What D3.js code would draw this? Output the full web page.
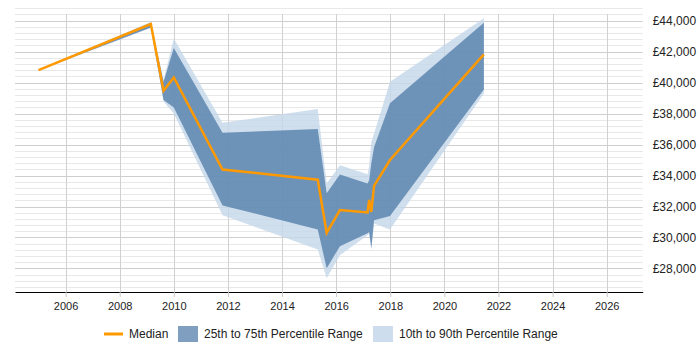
<!DOCTYPE html>
<html>
<head>
<meta charset="utf-8">
<script src="https://cdn.jsdelivr.net/npm/d3@7"></script>
<style>
  body { margin: 0; background: #fff; }
  svg { display: block; font-family: Arial, "Liberation Sans", sans-serif; }
</style>
</head>
<body>
<svg id="chart" width="700" height="350"></svg>
<script>
// decimal years of each observation
var years  = [2005.0, 2009.15, 2009.62, 2010.0, 2011.8, 2015.32, 2015.65, 2016.14, 2017.16, 2017.22, 2017.3, 2017.4, 2017.99, 2021.46]
var p10    = [40800, 43520, 38780, 38000, 31440, 29230, 27360, 28860, 30150, 30250, 29200, 30900, 30520, 39300]
var p25    = [40800, 43560, 38870, 38400, 32070, 30520, 28010, 29440, 30270, 30350, 29300, 31120, 31380, 39560]
var median = [40800, 43780, 39470, 40330, 34390, 33730, 30300, 31770, 31620, 32420, 31650, 33330, 35000, 41820]
var p75    = [40800, 43860, 40060, 42240, 36760, 37000, 32850, 34070, 33490, 33700, 34800, 35820, 38660, 43860]
var p90    = [40800, 43920, 40160, 42850, 37400, 38290, 33490, 34670, 34080, 34600, 36180, 36700, 40050, 44150]

var xTicks = [2006, 2008, 2010, 2012, 2014, 2016, 2018, 2020, 2022, 2024, 2026]
var yTicks = [28000, 30000, 32000, 34000, 36000, 38000, 40000, 42000, 44000]
var yMinor = d3.range(26800, 45000, 400)

var legendItems = ["Median", "25th to 75th Percentile Range", "10th to 90th Percentile Range"]

var data = years.map(function(yr, i){
    return {year: yr, p10: p10[i], p25: p25[i], median: median[i], p75: p75[i], p90: p90[i]}
})

var svg = d3.select("#chart")
var plotLeft = 15, plotRight = 642.7, plotTop = 5, plotBottom = 292

var x = d3.scaleLinear().domain([2004.13, 2027.33]).range([plotLeft, plotRight])
var y = d3.scaleLinear().domain([26480, 45010]).range([plotBottom, plotTop])

// horizontal gridlines, every 400, darker on labelled values
svg.append("g").selectAll("line")
   .data(yMinor)
   .join("line")
   .attr("x1", plotLeft).attr("x2", plotRight)
   .attr("y1", d => Math.round(y(d)) + 0.5).attr("y2", d => Math.round(y(d)) + 0.5)
   .style("stroke", d => d % 2000 == 0 ? "#cfcfcf" : "#e8e8e8")
   .style("stroke-width", 1)

// vertical gridlines
svg.append("g").selectAll("line")
   .data(xTicks)
   .join("line")
   .attr("x1", d => Math.round(x(d)) + 0.5).attr("x2", d => Math.round(x(d)) + 0.5)
   .attr("y1", plotTop + 9).attr("y2", plotBottom)
   .style("stroke", "#d0d0d0")

var area10 = d3.area().x(d => x(d.year)).y0(d => y(d.p10)).y1(d => y(d.p90))
var area25 = d3.area().x(d => x(d.year)).y0(d => y(d.p25)).y1(d => y(d.p75))
var line = d3.line().x(d => x(d.year)).y(d => y(d.median))

svg.append("path").datum(data)
   .attr("d", area10)
   .style("fill", "rgb(196,215,234)")
   .style("opacity", 0.8)

svg.append("path").datum(data)
   .attr("d", area25)
   .style("fill", "rgb(78,121,167)")
   .style("opacity", 0.75)

svg.append("path").datum(data)
   .attr("d", line)
   .style("fill", "none")
   .style("stroke", "#ff9900")
   .style("stroke-width", 2.5)
   .style("stroke-linejoin", "miter")

// x axis
var xAxis = svg.append("g")
   .attr("transform", "translate(0," + plotBottom + ")")
   .call(d3.axisBottom(x).tickValues(xTicks).tickFormat(d3.format("d")).tickSize(5).tickSizeOuter(0))
xAxis.select(".domain").style("stroke", "#000").style("stroke-width", 1.2)
xAxis.selectAll(".tick line").style("stroke", "#c8c8c8")
xAxis.selectAll("text").style("font-size", "11px").style("fill", "#222")
     .style("font-family", "Arial, 'Liberation Sans', sans-serif").attr("dy", "0.95em")

// y axis labels on the right
var yAxis = svg.append("g")
   .attr("transform", "translate(" + plotRight + ",0)")
   .call(d3.axisRight(y).tickValues(yTicks).tickFormat(d => "£" + d3.format(",")(d)).tickSize(0).tickPadding(10))
yAxis.select(".domain").remove()
yAxis.selectAll("text").style("font-size", "12px").style("fill", "#222")
     .style("font-family", "Arial, 'Liberation Sans', sans-serif")

// legend
var lg = svg.append("g").attr("transform", "translate(0,334)")
lg.append("line").attr("x1", 104).attr("x2", 123).attr("y1", 0).attr("y2", 0)
  .style("stroke", "#ff9900").style("stroke-width", 3)
lg.append("text").attr("x", 129).attr("y", 0).attr("dy", "0.35em").text(legendItems[0])
lg.append("rect").attr("x", 178).attr("y", -8).attr("width", 20).attr("height", 16)
  .style("fill", "rgb(128,158,192)")
lg.append("text").attr("x", 204).attr("y", 0).attr("dy", "0.35em").text(legendItems[1])
lg.append("rect").attr("x", 373).attr("y", -8).attr("width", 20).attr("height", 16)
  .style("fill", "rgb(206,221,237)")
lg.append("text").attr("x", 399).attr("y", 0).attr("dy", "0.35em").text(legendItems[2])
lg.selectAll("text").style("font-size", "12px").style("fill", "#222")
</script>
</body>
</html>
